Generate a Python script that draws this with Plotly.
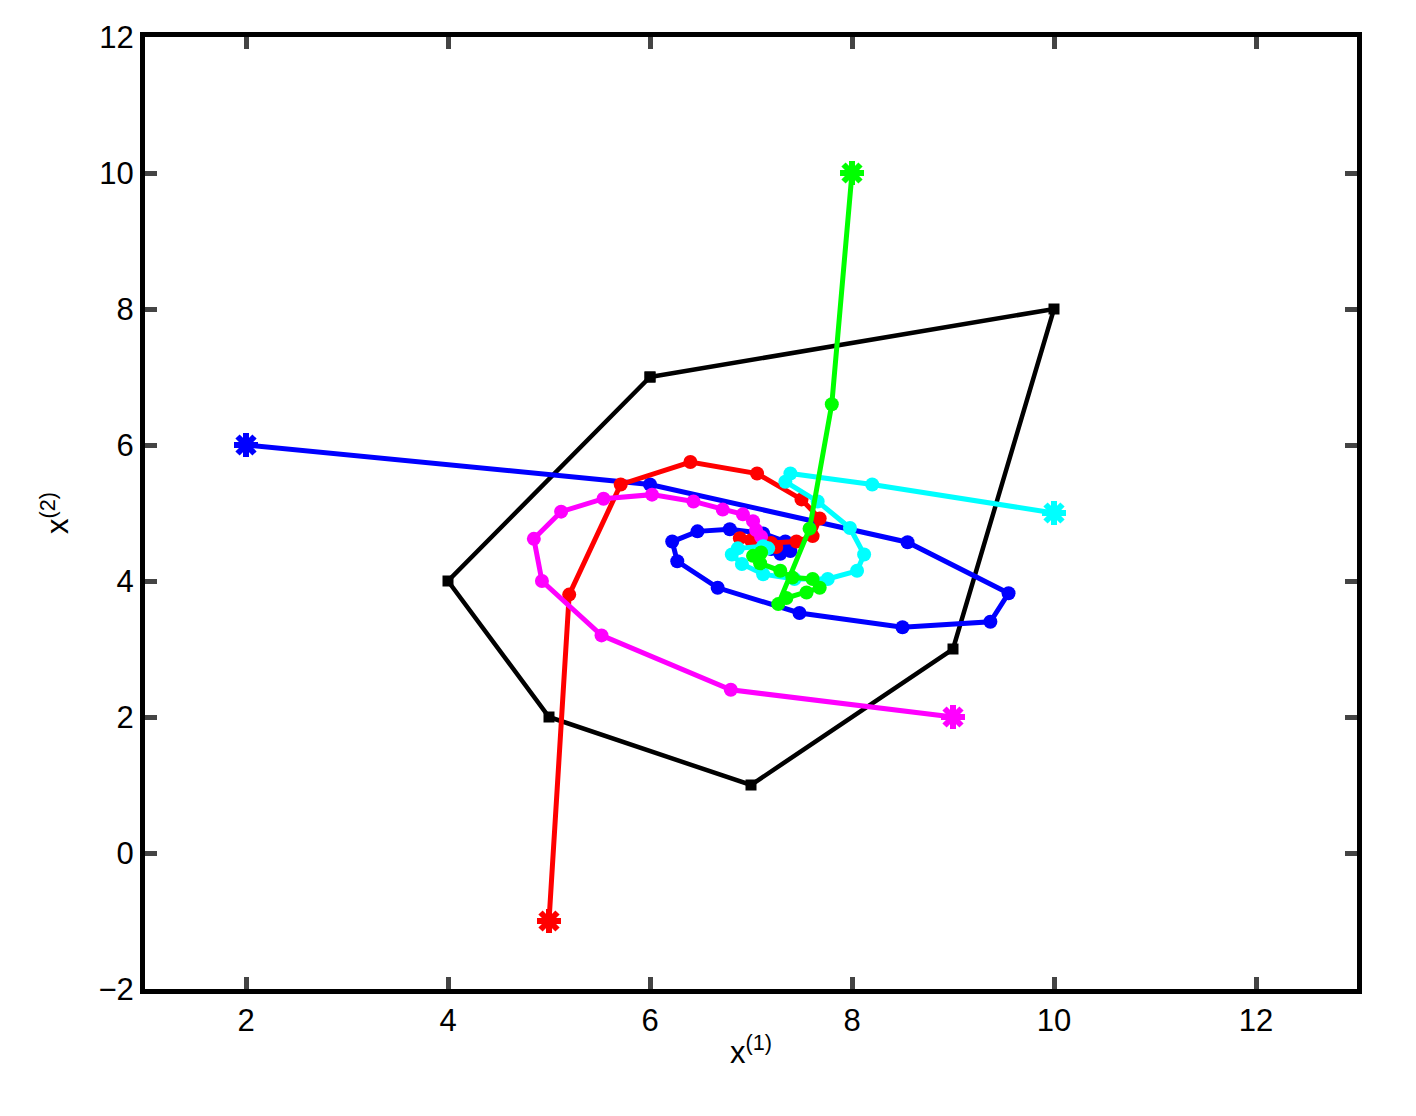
import plotly.graph_objects as go

# trajectories (x1, x2), first point is the start
blue_x = [2, 6.0, 8.55, 9.55, 9.37, 8.5, 7.48, 6.67, 6.27, 6.22, 6.47, 6.79, 7.12, 7.34, 7.39, 7.29, 7.2, 7.3]
blue_y = [6, 5.42, 4.57, 3.82, 3.4, 3.32, 3.53, 3.9, 4.29, 4.58, 4.73, 4.76, 4.70, 4.58, 4.44, 4.4, 4.47, 4.5]

red_x = [5, 5.2, 5.71, 6.4, 7.06, 7.5, 7.68, 7.61, 7.45, 7.2, 6.89, 7.0, 7.15, 7.25]
red_y = [-1, 3.8, 5.42, 5.75, 5.58, 5.2, 4.92, 4.66, 4.58, 4.56, 4.63, 4.6, 4.55, 4.5]

mag_x = [9, 6.8, 5.52, 4.93, 4.85, 5.12, 5.54, 6.02, 6.43, 6.72, 6.92, 7.02, 7.05, 7.1]
mag_y = [2, 2.4, 3.2, 4.0, 4.62, 5.02, 5.21, 5.27, 5.17, 5.05, 4.98, 4.88, 4.75, 4.65]

cyan_x = [10, 8.2, 7.39, 7.34, 7.66, 7.98, 8.12, 8.05, 7.76, 7.43, 7.12, 6.91, 6.81, 6.87, 7.12, 7.17]
cyan_y = [5, 5.42, 5.58, 5.46, 5.17, 4.78, 4.39, 4.15, 4.03, 4.03, 4.1, 4.25, 4.39, 4.48, 4.51, 4.48]

green_x = [8, 7.8, 7.58, 7.27, 7.35, 7.55, 7.68, 7.61, 7.41, 7.29, 7.09, 7.02, 7.1]
green_y = [10, 6.6, 4.77, 3.66, 3.75, 3.83, 3.9, 4.03, 4.05, 4.15, 4.26, 4.37, 4.42]

poly_x = [6, 10, 9, 7, 5, 4, 6]
poly_y = [7, 8, 3, 1, 2, 4, 7]

fig = go.Figure()

fig.add_trace(go.Scatter(x=poly_x, y=poly_y, mode="lines+markers",
                         line=dict(color="black", width=4.5),
                         marker=dict(symbol="square", size=11, color="black")))

series = [(blue_x, blue_y, "#0000ff"), (red_x, red_y, "#ff0000"),
          (mag_x, mag_y, "#ff00ff"), (cyan_x, cyan_y, "#00ffff"),
          (green_x, green_y, "#00ff00")]
for xs, ys, c in series:
    fig.add_trace(go.Scatter(x=xs, y=ys, mode="lines+markers",
                             line=dict(color=c, width=5),
                             marker=dict(size=14, color=c)))
    fig.add_trace(go.Scatter(x=xs[:1], y=ys[:1], mode="markers",
                             marker=dict(symbol="asterisk-open", size=20, color=c,
                                         line=dict(color=c, width=6))))

axis = dict(showgrid=False, zeroline=False, mirror="ticks", ticks="inside",
            ticklen=12, tickwidth=5, showline=True, linecolor="black", linewidth=5,
            tickfont=dict(size=31, color="black"))

fig.update_layout(
    width=1416, height=1116, showlegend=False,
    plot_bgcolor="white", paper_bgcolor="white",
    font=dict(family="Liberation Sans, Arial, sans-serif", size=31, color="black"),
    margin=dict(l=137, r=67, t=26, b=135),
    xaxis=dict(axis, range=[1, 13], tickvals=[2, 4, 6, 8, 10, 12],
               title=dict(text="x<sup>(1)</sup>", standoff=6, font=dict(size=31))),
    yaxis=dict(axis, range=[-2, 12], tickvals=[-2, 0, 2, 4, 6, 8, 10, 12],
               ticktext=["\u22122", "0", "2", "4", "6", "8", "10", "12"],
               title=dict(text="x<sup>(2)</sup>", standoff=22, font=dict(size=31))),
)

fig.write_html("out.html")
